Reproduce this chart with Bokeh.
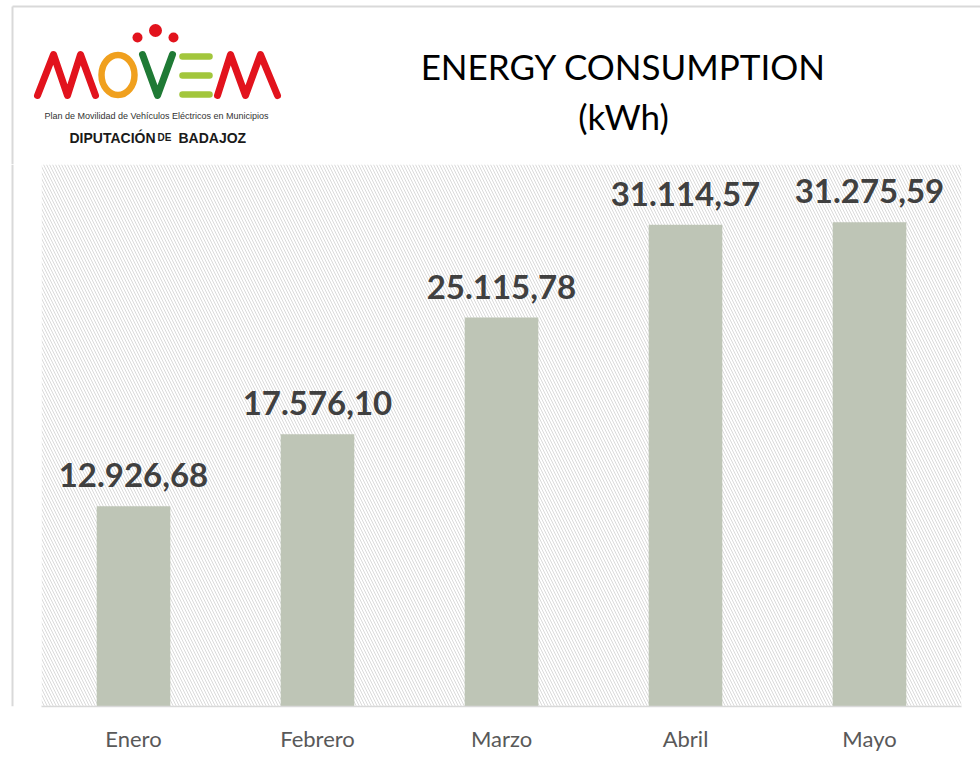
from bokeh.plotting import figure
from bokeh.layouts import column, row
from bokeh.models import ColumnDataSource, LabelSet, BoxAnnotation, FactorRange, Range1d
from bokeh.core.properties import value
from bokeh.embed import file_html
from bokeh.resources import INLINE

# ---- data ----
months = ["Enero", "Febrero", "Marzo", "Abril", "Mayo"]
consumption = [12926.68, 17576.10, 25115.78, 31114.57, 31275.59]
title_lines = ["ENERGY CONSUMPTION", "(kWh)"]


def es_fmt(v):
    s = f"{v:,.2f}"
    return s.replace(",", "X").replace(".", ",").replace("X", ".")


labels = [es_fmt(v) for v in consumption]
src = ColumnDataSource(dict(month=months, value=consumption, label=labels))

# ---- page geometry (page pixels) ----
PW, PH = 980, 765
FL, FR, FT, FB = 41, 961, 164, 706  # plot frame edges on the page
BORDER = "#d9d9d9"


def bare(width, height, xr, yr):
    f = figure(width=width, height=height, x_range=xr, y_range=yr,
               output_backend="svg", toolbar_location=None,
               x_axis_location=None, y_axis_location=None,
               min_border=0, outline_line_color=None,
               background_fill_color="white", border_fill_color="white")
    f.xgrid.visible = False
    f.ygrid.visible = False
    return f


# ---------------- header (logo + title) ----------------
hdr = bare(PW, FT, Range1d(0, PW), Range1d(FT, 0))
hdr.segment(x0=[12, 12], y0=[6, 6], x1=[PW, 12], y1=[6, FT], line_color=BORDER, line_width=2)

RED, ORANGE, DGREEN, LGREEN = "#e2131d", "#f0a01e", "#1f7a35", "#a2c63c"
logo_m1_x = [37, 53, 67, 80, 95]
logo_m2_x = [217, 230, 245, 260, 277]
logo_m_y = [95, 54, 95, 54, 95]
logo_v_x = [142, 157, 172]
logo_v_y = [54, 95, 54]
for xs in (logo_m1_x, logo_m2_x):
    hdr.line(xs, logo_m_y, line_color=RED, line_width=7, line_join="round", line_cap="round")
hdr.line(logo_v_x, logo_v_y, line_color=DGREEN, line_width=7, line_join="round", line_cap="round")
hdr.ellipse(x=[117.5], y=[74.5], width=[33], height=[40], fill_color=None,
            line_color=ORANGE, line_width=6.5)
hdr.segment(x0=[182] * 3, x1=[209] * 3, y0=[56, 75, 94], y1=[56, 75, 94],
            line_color=LGREEN, line_width=6.5, line_cap="round")
hdr.circle(x=[137, 155, 173], y=[37, 30, 37], radius=[5, 6.5, 5],
           fill_color=RED, line_color=None)

hdr.text(x=[156], y=[115], text=["Plan de Movilidad de Vehículos Eléctricos en Municipios"],
         text_align="center", text_baseline="alphabetic",
         text_font=value("Liberation Sans"), text_font_size="9px",
         text_color="#333333")
hdr.text(x=[69, 157, 178], y=[137, 137, 137], text=["DIPUTACIÓN", "DE", "BADAJOZ"],
         text_align="left", text_baseline="alphabetic",
         text_font=value("Liberation Sans"), text_font_style="bold",
         text_font_size=["14px", "10px", "14px"], text_color="#1a1a1a")

hdr.text(x=[623, 623], y=[65, 115], text=title_lines, text_align="center",
         text_baseline="alphabetic", text_font=value("Lato"),
         text_font_size="35px", text_color="#000000")

# ---------------- left strip (page border) ----------------
strip = bare(FL, PH - FT, Range1d(0, FL), Range1d(0, 1))
strip.segment(x0=[12], y0=[0], x1=[12], y1=[1], line_color=BORDER, line_width=2)

# ---------------- main chart ----------------
p = figure(x_range=FactorRange(*months), y_range=Range1d(0, 35000),
           width=PW - FL, height=PH - FT, output_backend="svg", toolbar_location=None,
           min_border_left=0, min_border_right=PW - FR,
           min_border_top=0, min_border_bottom=PH - FB,
           outline_line_color=None, background_fill_color="white",
           border_fill_color="white")
p.xgrid.visible = False
p.ygrid.visible = False
p.yaxis.visible = False

hatch = BoxAnnotation(fill_alpha=0, line_color=None, hatch_pattern="\\",
                      hatch_color="#dadada", hatch_scale=6, hatch_weight=1,
                      hatch_alpha=1, level="underlay")
p.add_layout(hatch)

p.vbar(x="month", top="value", width=0.4, source=src,
       fill_color="#bec5b6", line_color=None)

p.add_layout(LabelSet(x="month", y="value", text="label", source=src,
                      y_offset=19, text_align="center", text_baseline="alphabetic",
                      text_font=value("Lato"), text_font_style="bold",
                      text_font_size="33px", text_color="#404040"))

ax = p.xaxis[0]
ax.axis_line_color = BORDER
ax.axis_line_width = 1.5
ax.major_tick_line_color = None
ax.minor_tick_line_color = None
ax.major_label_text_font = "Lato"
ax.major_label_text_font_size = "22px"
ax.major_label_text_color = "#595959"
ax.major_label_standoff = 12

layout = column(hdr, row(strip, p, spacing=0), spacing=0)
open("out.html", "w").write(file_html(layout, INLINE))
